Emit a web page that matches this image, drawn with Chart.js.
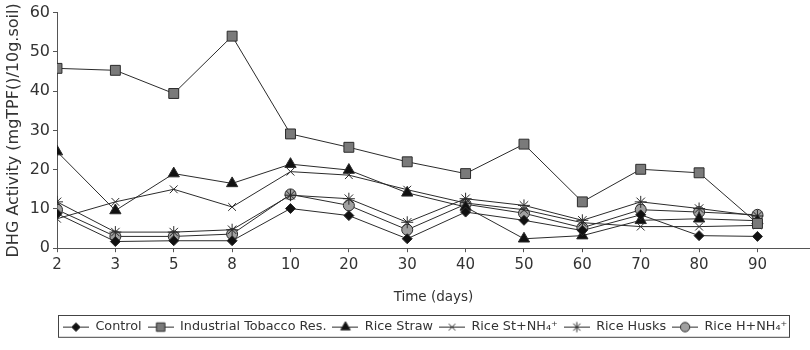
<!DOCTYPE html>
<html>
<head>
<meta charset="utf-8">
<script src="https://cdn.jsdelivr.net/npm/chart.js@4.4.1/dist/chart.umd.min.js"></script>
<style>
html, body { margin: 0; padding: 0; background: #fff; }
#wrap { width: 810px; height: 350px; position: relative; }
</style>
</head>
<body>
<div id="wrap"><canvas id="myChart"></canvas></div>
<script>
// data
var days = ['2', '3', '5', '8', '10', '20', '30', '40', '50', '60', '70', '80', '90'];
var control   = [8.8, 1.7, 1.9, 1.9, 10.1, 8.3, 2.4, 9.2, 7.1, 4.5, 8.5, 3.2, 3.0];
var tobacco   = [45.8, 45.3, 39.4, 54.0, 29.1, 25.7, 22.0, 19.0, 26.5, 11.8, 20.1, 19.2, 6.3];
var riceStraw = [24.6, 9.6, 19.0, 16.5, 21.4, 19.9, 14.1, 10.5, 2.4, 3.2, 7.1, 7.5, 7.0];
var riceStNH4 = [7.5, 11.8, 15.0, 10.5, 19.5, 18.6, 14.9, 11.5, 9.8, 6.5, 5.5, 5.5, 5.8];
var riceHusks = [11.8, 4.1, 4.1, 4.7, 13.5, 12.6, 6.6, 12.6, 10.9, 7.1, 11.8, 10.1, 8.2];
var riceHNH4  = [9.8, 3.0, 3.0, 3.6, 13.7, 10.9, 4.7, 11.2, 8.9, 5.2, 9.8, 9.2, 8.5];
var seriesNames = ['Control', 'Industrial Tobacco Res.', 'Rice Straw', 'Rice St+NH\u2084\u207A', 'Rice Husks', 'Rice H+NH\u2084\u207A'];
var yTicks = [0, 10, 20, 30, 40, 50, 60];

const ink = '#2b2b2b';
const axisColor = '#555';

function points(vals){
    return vals.map(function(v, i){ return {x: i, y: v}; });
}

function makeSet(name, vals, style, radius, fill){
    return {
        label: name,
        data: points(vals),
        borderColor: ink,
        borderWidth: 1,
        pointStyle: style,
        pointRadius: radius,
        pointHoverRadius: radius,
        pointBackgroundColor: fill,
        pointBorderColor: ink,
        pointBorderWidth: 1,
        tension: 0,
        fill: false
    };
}

var sets = [
    makeSet(seriesNames[0], control, 'rectRot', 5, '#111'),
    makeSet(seriesNames[1], tobacco, 'rect', 7, '#7a7a7a'),
    makeSet(seriesNames[2], riceStraw, 'triangle', 6.5, '#111'),
    makeSet(seriesNames[3], riceStNH4, 'crossRot', 5.5, '#111'),
    makeSet(seriesNames[4], riceHusks, 'star', 6, '#111'),
    makeSet(seriesNames[5], riceHNH4, 'circle', 5.5, '#a0a0a0')
];

// legend symbols: short line with the marker on it
function legendIcon(ds){
    var c = document.createElement('canvas');
    c.width = 26; c.height = 14;
    var g = c.getContext('2d');
    g.strokeStyle = ink;
    g.lineWidth = 1;
    g.beginPath(); g.moveTo(0, 7.5); g.lineTo(26, 7.5); g.stroke();
    g.fillStyle = ds.pointBackgroundColor;
    Chart.helpers.drawPoint(g, {pointStyle: ds.pointStyle, radius: ds.pointRadius * 0.85, rotation: 0, borderWidth: 1}, 13, 7.5);
    return c;
}

const legendBox = {
    id: 'legendBox',
    afterDraw(chart){
        var boxes = chart.legend.legendHitBoxes;
        if(!boxes || !boxes.length) return;
        var l = Math.min.apply(null, boxes.map(function(b){ return b.left; }));
        var r = Math.max.apply(null, boxes.map(function(b){ return b.left + b.width; }));
        var t = boxes[0].top;
        var ctx = chart.ctx;
        ctx.save();
        ctx.strokeStyle = '#444';
        ctx.lineWidth = 1;
        ctx.strokeRect(Math.round(l) - 4.5, Math.round(t) - 4.5, Math.round(r - l) + 7, boxes[0].height + 9);
        ctx.restore();
    }
};

new Chart(document.getElementById('myChart'), {
    type: 'line',
    data: { datasets: sets },
    options: {
        responsive: true,
        maintainAspectRatio: false,
        animation: false,
        layout: { autoPadding: false, padding: { top: 10, right: 0, left: 0, bottom: 7 } },
        plugins: {
            tooltip: { enabled: false },
            legend: {
                position: 'bottom',
                align: 'start',
                fullSize: false,
                labels: {
                    usePointStyle: true,
                    pointStyleWidth: 26,
                    boxHeight: 12,
                    padding: 6,
                    color: '#333',
                    font: { family: 'DejaVu Sans', size: 12.8 },
                    generateLabels: function(chart){
                        var items = Chart.defaults.plugins.legend.labels.generateLabels(chart);
                        items.forEach(function(it){
                            it.pointStyle = legendIcon(chart.data.datasets[it.datasetIndex]);
                        });
                        return items;
                    }
                }
            }
        },
        scales: {
            x: {
                type: 'linear',
                min: 0,
                max: 12.9,
                afterFit: function(scale){ scale.height = 66; scale.paddingRight = 0; scale.paddingLeft = 0; },
                grid: { display: true, drawOnChartArea: false, drawTicks: true, tickLength: 4, color: axisColor },
                border: { color: axisColor, width: 1 },
                ticks: {
                    stepSize: 1,
                    includeBounds: false,
                    autoSkip: false,
                    maxRotation: 0,
                    padding: 4,
                    color: '#333',
                    font: { family: 'DejaVu Sans', size: 15 },
                    callback: function(v){ return days[v] !== undefined ? days[v] : ''; }
                },
                title: { display: true, text: 'Time (days)', color: '#333', font: { family: 'DejaVu Sans', size: 13.5 }, padding: { top: 4, bottom: 9 } }
            },
            y: {
                min: 0,
                max: 60,
                afterFit: function(scale){ scale.width = 57; },
                afterBuildTicks: function(scale){
                    scale.ticks = yTicks.map(function(v){ return {value: v}; });
                },
                grid: { display: true, drawOnChartArea: false, drawTicks: true, tickLength: 4, color: axisColor },
                border: { color: axisColor, width: 1 },
                ticks: { padding: 3, color: '#333', font: { family: 'DejaVu Sans', size: 16 } },
                title: { display: true, text: 'DHG Activity (mgTPF()/10g.soil)', color: '#333', font: { family: 'DejaVu Sans', size: 16 }, padding: { top: 4, bottom: 0 } }
            }
        }
    },
    plugins: [legendBox]
});
</script>
</body>
</html>
